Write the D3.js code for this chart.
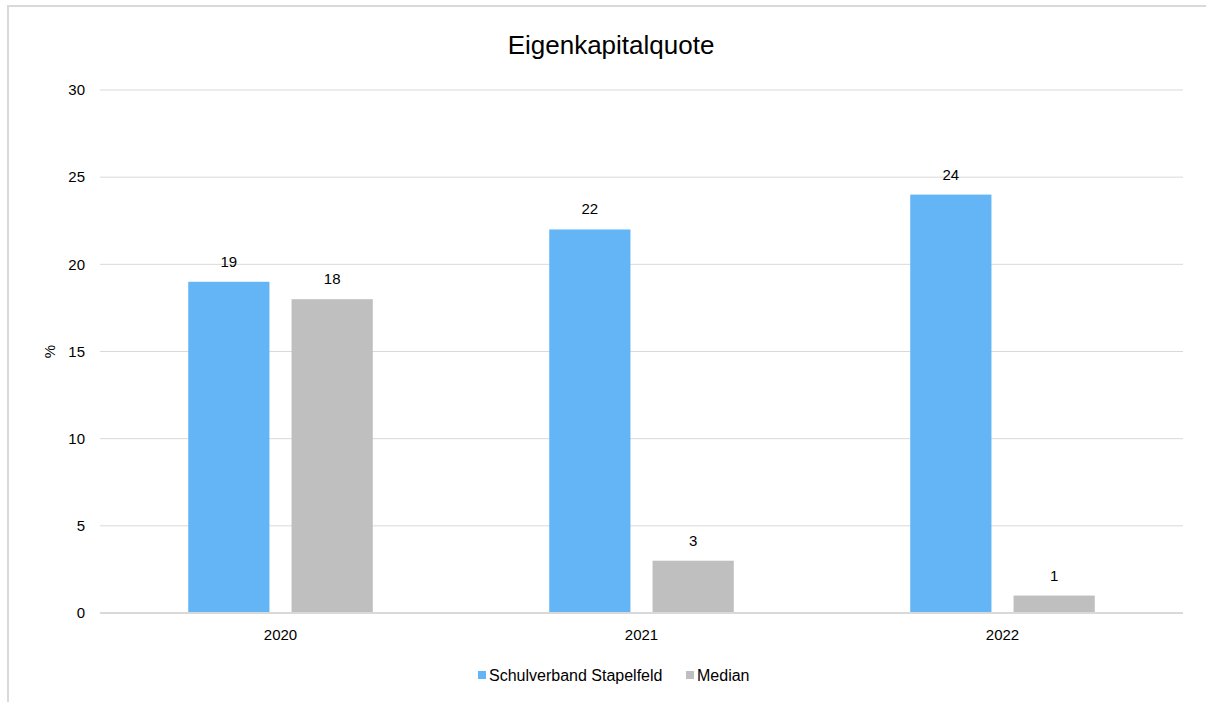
<!DOCTYPE html>
<html>
<head>
<meta charset="utf-8">
<style>
    body { margin: 0; background: #fff; }
    text { font-family: "Liberation Sans", Arial, sans-serif; fill: #000; }
</style>
</head>
<body>
<svg id="container" width="1206" height="702"></svg>
<script src="https://cdn.jsdelivr.net/npm/d3@7"></script>
<script>
    // chart data
    const years = ["2020", "2021", "2022"]
    const seriesNames = ["Schulverband Stapelfeld", "Median"]
    const stapelfeld = [19, 22, 24]
    const median = [18, 3, 1]
    const yTicks = [0, 5, 10, 15, 20, 25, 30]
    const colors = ["#64b5f6", "#bfbfbf"]

    let svg = d3.select("#container")

    // outer frame (cut off at right and bottom like the screenshot)
    svg.append("rect")
        .attr("x", 8).attr("y", 6)
        .attr("width", 1210).attr("height", 710)
        .attr("fill", "none")
        .attr("stroke", "#d9d9d9")
        .attr("stroke-width", 2)

    let plotLeft = 100, plotRight = 1183, plotTop = 90, plotBottom = 613

    let x = d3.scaleBand().domain(years).range([plotLeft, plotRight])
    let inner = d3.scaleBand().domain(seriesNames).range([0, x.bandwidth()]).paddingInner(0.214).paddingOuter(0.854)
    let y = d3.scaleLinear().domain([0, 30]).range([plotBottom, plotTop])

    // gridlines
    svg.append("g")
        .selectAll("line")
        .data(yTicks.filter(d => d > 0))
        .enter().append("line")
        .attr("x1", plotLeft).attr("x2", plotRight)
        .attr("y1", d => y(d)).attr("y2", d => y(d))
        .attr("stroke", "#d9d9d9")
        .attr("stroke-width", 1)

    // y labels
    svg.append("g")
        .selectAll("text")
        .data(yTicks)
        .enter().append("text")
        .attr("x", 85)
        .attr("y", d => y(d))
        .attr("dy", "0.35em")
        .attr("text-anchor", "end")
        .style("font-size", "15px")
        .text(d => d)

    svg.append("text")
        .attr("transform", "translate(55," + y(15) + ") rotate(-90)")
        .attr("text-anchor", "middle")
        .style("font-size", "15px")
        .text("%")

    // bars
    let rows = years.map((yr, i) => ({ year: yr, values: [stapelfeld[i], median[i]] }))
    let groups = svg.append("g")
        .selectAll("g")
        .data(rows)
        .enter().append("g")
        .attr("transform", d => "translate(" + x(d.year) + ",0)")

    groups.selectAll("rect")
        .data(d => d.values.map((v, j) => ({ name: seriesNames[j], value: v, c: colors[j] })))
        .enter().append("rect")
        .attr("x", d => inner(d.name))
        .attr("width", inner.bandwidth())
        .attr("y", d => y(d.value))
        .attr("height", d => y(0) - y(d.value))
        .attr("fill", d => d.c)

    groups.selectAll("text")
        .data(d => d.values.map((v, j) => ({ name: seriesNames[j], value: v })))
        .enter().append("text")
        .attr("x", d => inner(d.name) + inner.bandwidth() / 2)
        .attr("y", d => y(d.value) - 15)
        .attr("text-anchor", "middle")
        .style("font-size", "15px")
        .text(d => d.value)

    // x axis line
    svg.append("line")
        .attr("x1", plotLeft).attr("x2", plotRight)
        .attr("y1", plotBottom).attr("y2", plotBottom)
        .attr("stroke", "#d9d9d9")
        .attr("stroke-width", 2)

    svg.append("g")
        .selectAll("text")
        .data(years)
        .enter().append("text")
        .attr("x", d => x(d) + x.bandwidth() / 2)
        .attr("y", 640)
        .attr("text-anchor", "middle")
        .style("font-size", "15px")
        .text(d => d)

    // title
    svg.append("text")
        .attr("x", 611).attr("y", 54)
        .attr("text-anchor", "middle")
        .style("font-size", "26px")
        .text("Eigenkapitalquote")

    // legend
    let legendX = [478, 686]
    let legend = svg.append("g")
        .selectAll("g")
        .data(seriesNames)
        .enter().append("g")
        .attr("transform", (d, i) => "translate(" + legendX[i] + ",671)")
    legend.append("rect")
        .attr("width", 8).attr("height", 8)
        .attr("fill", (d, i) => colors[i])
    legend.append("text")
        .attr("x", 11).attr("y", 4)
        .attr("dy", "0.35em")
        .style("font-size", "16px")
        .text(d => d)
</script>
</body>
</html>
